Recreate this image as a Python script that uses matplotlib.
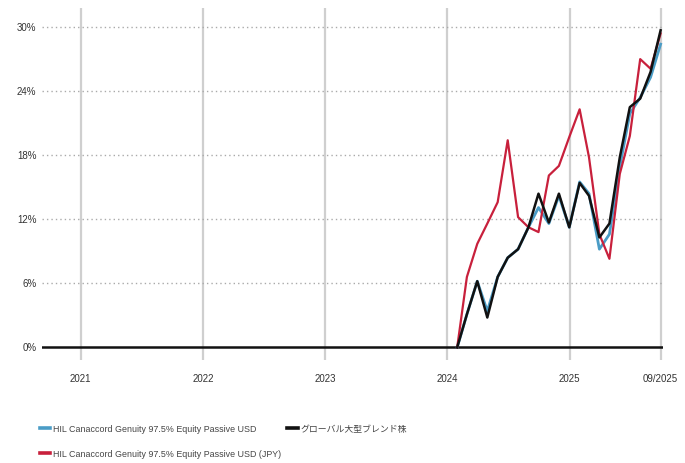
import matplotlib
matplotlib.use("Agg")
import matplotlib.pyplot as plt
import pandas as pd

plt.rcParams['font.family'] = ['Liberation Sans', 'Noto Sans CJK JP', 'DejaVu Sans']

dates = pd.date_range('2024-01-31', periods=21, freq='ME')
fund_usd = [0, 3.1, 6.2, 3.4, 6.6, 8.4, 9.2, 11.25, 13.1, 11.6, 14.2, 11.25,
            15.5, 14.4, 9.2, 10.6, 16.9, 21.9, 23.4, 25.3, 28.4]
fund_jpy = [0, 6.6, 9.7, 11.6, 13.6, 19.4, 12.2, 11.25, 10.8, 16.1, 17.0, 19.7,
            22.3, 17.8, 10.6, 8.3, 16.25, 19.8, 27.0, 26.1, 29.4]
peer = [0, 3.1, 6.2, 2.8, 6.6, 8.4, 9.2, 11.25, 14.4, 11.7, 14.4, 11.25,
        15.4, 14.2, 10.3, 11.6, 17.8, 22.5, 23.3, 25.8, 29.7]

tick_dates = pd.to_datetime(['2021-01-01', '2022-01-01', '2023-01-01', '2024-01-01',
                             '2025-01-01', '2025-09-30'])
tick_labels = ['2021', '2022', '2023', '2024', '2025', '09/2025']
y_ticks = [0, 6, 12, 18, 24, 30]
y_labels = ['0%', '6%', '12%', '18%', '24%', '30%']

labels = ['HIL Canaccord Genuity 97.5% Equity Passive USD',
          'HIL Canaccord Genuity 97.5% Equity Passive USD (JPY)',
          'グローバル大型ブレンド株']
colors = ['#4a9cc6', '#c8203c', '#111111']

fig = plt.figure(figsize=(6.85, 4.63), dpi=100)
ax = fig.add_axes([0.0613, 0.222, 0.907, 0.761])

for d in tick_dates:
    ax.axvline(d, color='#cfcfcf', lw=1.6, zorder=1)
for y in y_ticks[1:]:
    ax.axhline(y, color='#aaaaaa', lw=1.0, ls=(0, (1, 2.2)), zorder=1)
ax.axhline(0, color='#111111', lw=1.8, zorder=2)

l1, = ax.plot(dates, fund_usd, color=colors[0], lw=2.0, zorder=3)
l2, = ax.plot(dates, fund_jpy, color=colors[1], lw=1.6, zorder=3)
l3, = ax.plot(dates, peer, color=colors[2], lw=1.8, zorder=4)

ax.set_xlim(pd.Timestamp('2020-09-07'), pd.Timestamp('2025-10-08'))
ax.set_ylim(-1.2, 31.8)
ax.set_xticks(tick_dates)
ax.set_xticklabels(tick_labels, fontsize=7, color='#333333')
ax.set_yticks(y_ticks)
ax.set_yticklabels(y_labels, fontsize=7, color='#333333')
ax.tick_params(length=0, pad=10)
ax.tick_params(axis='y', pad=4)
for s in ax.spines.values():
    s.set_visible(False)

leg = fig.legend([l1, l2, l3], labels,
                 loc='upper left', bbox_to_anchor=(0.058, 0.083), ncol=2,
                 frameon=False, fontsize=6.4, handlelength=1.2, handletextpad=0.3,
                 columnspacing=0.7, labelspacing=1.8, borderaxespad=0, borderpad=0)
for h in leg.legend_handles:
    h.set_linewidth(2.6)
for t in leg.get_texts():
    t.set_color('#444444')

fig.savefig('out.png', dpi=100)
